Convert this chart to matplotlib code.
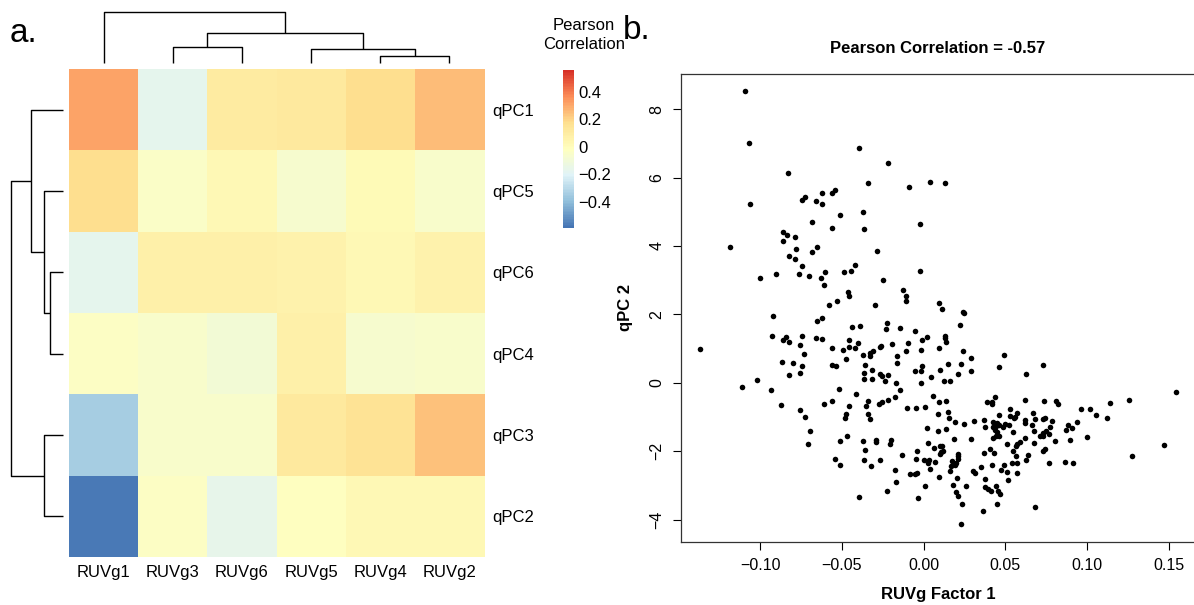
import numpy as np
import matplotlib
matplotlib.use("Agg")
import matplotlib.pyplot as plt
from matplotlib.colors import LinearSegmentedColormap

plt.rcParams['font.family'] = ['Liberation Sans', 'DejaVu Sans']

# ---- panel a: correlation heatmap ----
row_labels = ["qPC1", "qPC5", "qPC6", "qPC4", "qPC3", "qPC2"]
col_labels = ["RUVg1", "RUVg3", "RUVg6", "RUVg5", "RUVg4", "RUVg2"]
corr = [
    [0.31, -0.17, 0.10, 0.12, 0.18, 0.25],
    [0.18, -0.04, 0.02, -0.07, 0.01, -0.05],
    [-0.17, 0.07, 0.07, 0.06, 0.03, 0.06],
    [-0.03, -0.06, -0.09, 0.07, -0.07, -0.05],
    [-0.34, -0.05, -0.05, 0.12, 0.15, 0.24],
    [-0.57, -0.03, -0.16, -0.02, 0.02, 0.02],
]
# merges: (left, right, height) -- scipy style ids, leaves 0..5 in display order
row_merges = [(2, 3, 0.26), (1, 6, 0.375), (0, 7, 0.623), (4, 5, 0.375), (8, 9, 1.0)]
col_merges = [(1, 2, 0.32), (4, 5, 0.13), (3, 7, 0.27), (6, 8, 0.58), (0, 9, 1.0)]
cbar_ticks = [0.4, 0.2, 0, -0.2, -0.4]
cbar_labels = ["0.4", "0.2", "0", "\u22120.2", "\u22120.4"]

# ---- panel b: scatter ----
ruvg_factor1 = [
    -0.1095, -0.1069, -0.0832, -0.0392, -0.0216, -0.0340, -0.0088, 0.0037, -0.1062, -0.0741,
    -0.0724, -0.0624, -0.0563, -0.0540, -0.0655, -0.0622, -0.0514, -0.0373, -0.0681, -0.0563,
    -0.0363, -0.0024, -0.0859, -0.0836, -0.0785, -0.0859, -0.1181, -0.0783, -0.0651, -0.0683,
    -0.0282, -0.0820, -0.0787, -0.0741, -0.0420, -0.0444, -0.0487, -0.0602, -0.0763, -0.0698,
    -0.0630, -0.0900, -0.0999, -0.0020, -0.0245, -0.0608, -0.0126, -0.0108, -0.0108, -0.0461,
    -0.0453, -0.0530, -0.0579, -0.0294, 0.0092, -0.0920, -0.0652, -0.0622, -0.0226, -0.0435,
    -0.0387, -0.0228, -0.0144, -0.0053, -0.0930, -0.0840, -0.0860, -0.0826, -0.0744, -0.0655,
    -0.0622, -0.0459, -0.0400, 0.0021, -0.0010, -0.0098, -0.0192, -0.0259, -0.0265, -0.0753,
    -0.0559, -0.0455, -0.0420, -0.0490, -0.0312, -0.0326, -0.0110, -0.0016, 0.0092, -0.1367,
    -0.0734, -0.0371, -0.0326, -0.0161, -0.0477, -0.0867, -0.0799, -0.0163, -0.0744, -0.0559,
    -0.0536, -0.0361, -0.0012, -0.0316, -0.0365, -0.0365, -0.0316, -0.0265, -0.0253, -0.0220,
    -0.0051, -0.0016, 0.0098, 0.0047, -0.0016, -0.0233, -0.0171, -0.0144, -0.0824, -0.0756,
    -0.1016, -0.1110, -0.0936, -0.0516, -0.0414, 0.0055, -0.0173, -0.0220, -0.0257, -0.0273,
    -0.0337, -0.0351, -0.0453, -0.0557, -0.0610, -0.0869, 0.0094, -0.0104, -0.0049, 0.0009,
    0.0088, -0.0753, -0.0726, -0.0473, -0.0483, -0.0340, -0.0330, -0.0695, 0.0023, 0.0088,
    -0.0706, -0.0514, -0.0469, -0.0369, -0.0289, -0.0291, -0.0198, -0.0204, 0.0029, 0.0065,
    0.0098, 0.0098, -0.0355, -0.0037, -0.0129, -0.0049, 0.0004, 0.0033, 0.0029, 0.0070,
    -0.0540, -0.0510, -0.0365, -0.0265, -0.0320, -0.0177, 0.0037, -0.0081, -0.0053, -0.0040,
    0.0096, -0.0169, 0.0006, -0.0224, -0.0395, -0.0032, 0.0113, 0.0239, 0.0245, 0.0223,
    0.0131, 0.0131, 0.0137, 0.0239, 0.0494, 0.0147, 0.0231, 0.0292, 0.0463, 0.0733,
    0.0208, 0.0292, 0.0629, 0.0125, 0.0165, 0.0139, 0.0388, 0.0419, 0.0435, 0.0422,
    0.0621, 0.0737, 0.0810, 0.0820, 0.0963, 0.1020, 0.1143, 0.1255, 0.1545, 0.0149,
    0.0157, 0.0194, 0.0249, 0.0308, 0.0463, 0.0531, 0.0575, 0.0561, 0.0532, 0.0551,
    0.0667, 0.0684, 0.0731, 0.0741, 0.0786, 0.0618, 0.0618, 0.0661, 0.0371, 0.0428,
    0.0449, 0.0441, 0.0461, 0.0486, 0.0500, 0.0523, 0.0379, 0.0425, 0.0435, 0.0449,
    0.0443, 0.0459, 0.0425, 0.0547, 0.0884, 0.0908, 0.0871, 0.0939, 0.1053, 0.1122,
    0.0775, 0.0749, 0.0734, 0.0714, 0.0765, 0.0733, 0.0679, 0.0621, 0.0802, 0.0898,
    0.1002, 0.0139, 0.0184, 0.0292, 0.0508, 0.0592, 0.0575, 0.0563, 0.0547, 0.0679,
    0.0113, 0.0106, 0.0122, 0.0408, 0.0433, 0.0373, 0.0745, 0.0734, 0.0211, 0.0214,
    0.0208, 0.0198, 0.0177, 0.0190, 0.0170, 0.0639, 0.0624, 0.0565, 0.0543, 0.0575,
    0.0765, 0.0863, 0.0914, 0.1275, 0.1469, 0.0420, 0.0494, 0.0351, 0.0474, 0.0510,
    0.0575, 0.0300, 0.0316, 0.0163, 0.0202, 0.0378, 0.0514, 0.0182, 0.0259, 0.0378,
    0.0392, 0.0412, 0.0443, 0.0457, 0.0469, 0.0200, 0.0208, 0.0237, 0.0365, 0.0449,
    0.0682, 0.0231, 0.0133,
]
qpc2 = [
    8.52, 7.02, 6.12, 6.86, 6.43, 5.84, 5.72, 5.87, 5.23, 5.35,
    5.44, 5.54, 5.56, 5.63, 5.31, 5.23, 4.91, 4.98, 4.70, 4.53,
    4.49, 4.63, 4.40, 4.33, 4.27, 4.15, 3.96, 3.92, 3.98, 3.82,
    3.85, 3.70, 3.62, 3.40, 3.45, 3.28, 3.24, 3.25, 3.19, 3.12,
    3.07, 3.17, 3.07, 3.27, 3.01, 2.85, 2.71, 2.54, 2.39, 2.64,
    2.55, 2.39, 2.26, 2.26, 2.32, 1.96, 1.82, 1.88, 1.75, 1.64,
    1.66, 1.56, 1.59, 1.52, 1.37, 1.34, 1.24, 1.20, 1.37, 1.32,
    1.28, 1.24, 1.16, 1.33, 1.24, 1.15, 1.13, 1.08, 1.05, 1.09,
    1.03, 1.05, 1.01, 0.95, 0.93, 0.88, 0.93, 0.96, 1.02, 0.99,
    0.83, 0.82, 0.79, 0.77, 0.70, 0.62, 0.59, 0.59, 0.49, 0.53,
    0.48, 0.53, 0.48, 0.38, 0.28, 0.11, 0.11, 0.26, 0.21, 0.23,
    0.34, 0.34, 0.36, 0.18, -0.01, 0.05, -0.01, -0.20, 0.23, 0.30,
    0.09, -0.13, -0.21, -0.18, -0.32, -0.38, -0.42, -0.49, -0.56, -0.62,
    -0.53, -0.68, -0.67, -0.53, -0.62, -0.64, -0.55, -0.75, -0.75, -0.72,
    -0.90, -0.80, -1.00, -0.91, -1.03, -0.91, -1.06, -1.41, -1.32, -1.41,
    -1.79, -1.71, -1.57, -1.71, -1.66, -1.73, -1.68, -1.78, -1.76, -1.92,
    -1.86, -2.08, -1.96, -1.99, -2.11, -2.23, -2.27, -2.25, -2.34, -2.31,
    -2.23, -2.40, -2.26, -2.25, -2.43, -2.55, -2.52, -2.66, -2.66, -2.63,
    -2.74, -2.91, -3.03, -3.15, -3.33, -3.37, 2.17, 2.07, 2.04, 1.68,
    1.38, 1.31, 1.20, 0.93, 0.80, 0.55, 0.56, 0.71, 0.46, 0.51,
    0.27, 0.33, 0.26, 0.06, 0.06, -0.52, -0.55, -0.63, -0.41, -0.55,
    -0.50, -0.53, -0.52, -0.62, -0.76, -0.76, -0.58, -0.49, -0.28, -0.85,
    -1.02, -1.14, -1.21, -1.12, -0.94, -0.77, -0.88, -1.00, -0.98, -1.03,
    -0.88, -1.05, -1.05, -1.03, -1.12, -1.08, -1.18, -1.24, -1.10, -1.16,
    -1.18, -1.26, -1.24, -1.29, -1.20, -1.23, -1.28, -1.29, -1.37, -1.43,
    -1.55, -1.57, -1.61, -1.43, -1.23, -1.31, -1.38, -1.14, -0.93, -1.02,
    -1.29, -1.40, -1.47, -1.57, -1.49, -1.55, -1.42, -1.60, -1.70, -1.67,
    -1.58, -1.34, -1.64, -1.64, -1.79, -1.74, -1.78, -1.86, -1.99, -1.75,
    -1.84, -2.01, -1.98, -1.94, -2.04, -2.04, -1.93, -1.98, -2.08, -2.14,
    -2.22, -2.34, -2.29, -2.39, -2.44, -2.11, -2.25, -2.15, -2.34, -2.34,
    -2.34, -2.33, -2.34, -2.14, -1.83, -2.40, -2.39, -2.46, -2.55, -2.62,
    -2.63, -2.58, -2.63, -2.59, -2.79, -2.80, -2.85, -3.00, -3.03, -3.06,
    -3.10, -3.17, -3.03, -3.17, -3.24, -3.20, -3.32, -3.55, -3.74, -3.55,
    -3.62, -4.14, 5.83,
]


def draw_dendrogram(ax, merges, n, orient):
    # leaf positions at cell centres, internal nodes at mean of children
    pos = {i: i + 0.5 for i in range(n)}
    hgt = {i: 0.0 for i in range(n)}
    for k, (a, b, h) in enumerate(merges):
        node = n + k
        pos[node] = (pos[a] + pos[b]) / 2
        hgt[node] = h
        xs = [pos[a], pos[a], pos[b], pos[b]]
        ys = [hgt[a], h, h, hgt[b]]
        if orient == "top":
            ax.plot(xs, ys, color="black", lw=1.0, clip_on=False,
                    solid_capstyle="butt")
        else:
            ax.plot(ys, xs, color="black", lw=1.0, clip_on=False,
                    solid_capstyle="butt")
    ax.axis("off")


fig = plt.figure(figsize=(11.94, 6.05), dpi=100)

cmap = LinearSegmentedColormap.from_list(
    "pheat", ["#4575b4", "#91bfdb", "#e0f3f8", "#ffffbf", "#fee090", "#fc8d59", "#d73027"], N=100)
vmin, vmax = -0.59, 0.56

ax_hm = fig.add_axes([0.0578, 0.0793, 0.3476, 0.8066])
im = ax_hm.imshow(np.array(corr), cmap=cmap, vmin=vmin, vmax=vmax, aspect="auto",
                  interpolation="nearest")
ax_hm.set_xticks(range(len(col_labels)))
ax_hm.set_xticklabels(col_labels, fontsize=12)
ax_hm.set_yticks(range(len(row_labels)))
ax_hm.set_yticklabels(row_labels, fontsize=12)
ax_hm.yaxis.tick_right()
ax_hm.tick_params(length=0, pad=6)
ax_hm.tick_params(axis="x", pad=6)
for s in ax_hm.spines.values():
    s.set_visible(False)

ax_rd = fig.add_axes([0.0092, 0.0793, 0.0436, 0.8066])
draw_dendrogram(ax_rd, row_merges, len(row_labels), "left")
ax_rd.set_ylim(len(row_labels), 0)
ax_rd.set_xlim(1.0, 0.0)

ax_cd = fig.add_axes([0.0578, 0.8959, 0.3476, 0.0843])
draw_dendrogram(ax_cd, col_merges, len(col_labels), "top")
ax_cd.set_xlim(0, len(col_labels))
ax_cd.set_ylim(0, 1.0)

cax = fig.add_axes([0.4715, 0.6231, 0.0092, 0.2612])
cb = fig.colorbar(im, cax=cax)
cb.outline.set_visible(False)
cb.set_ticks(cbar_ticks)
cb.set_ticklabels(cbar_labels)
cax.tick_params(length=0, labelsize=12, pad=3)
fig.text(0.489, 0.942, "Pearson\nCorrelation", ha="center", va="center", fontsize=12,
         linespacing=1.3)

fig.text(0.008, 0.93, "a.", fontsize=24, ha="left", va="baseline")
fig.text(0.522, 0.935, "b.", fontsize=24, ha="left", va="baseline")

# scatter
ax = fig.add_axes([0.5704, 0.1046, 0.4305, 0.7731])
ax.scatter(ruvg_factor1, qpc2, s=16, color="black", linewidths=0)
ax.margins(x=0.04, y=0.04)
ax.set_xticks([-0.10, -0.05, 0.00, 0.05, 0.10, 0.15])
ax.set_xticklabels(["\u22120.10", "\u22120.05", "0.00", "0.05", "0.10", "0.15"])
ax.set_yticks([-4, -2, 0, 2, 4, 6, 8])
ax.set_yticklabels(["\u22124", "\u22122", "0", "2", "4", "6", "8"], rotation=90, va="center")
ax.tick_params(direction="out", length=6, width=0.8, labelsize=11.5, pad=6)
for s in ax.spines.values():
    s.set_linewidth(0.9)
    s.set_color("#333333")
ax.set_title("Pearson Correlation = -0.57", fontsize=12, fontweight="bold", pad=15)
ax.set_xlabel("RUVg Factor 1", fontsize=12, fontweight="bold", labelpad=10)
ax.set_ylabel("qPC 2", fontsize=12, fontweight="bold", labelpad=12)

fig.savefig("out.png", dpi=100)
